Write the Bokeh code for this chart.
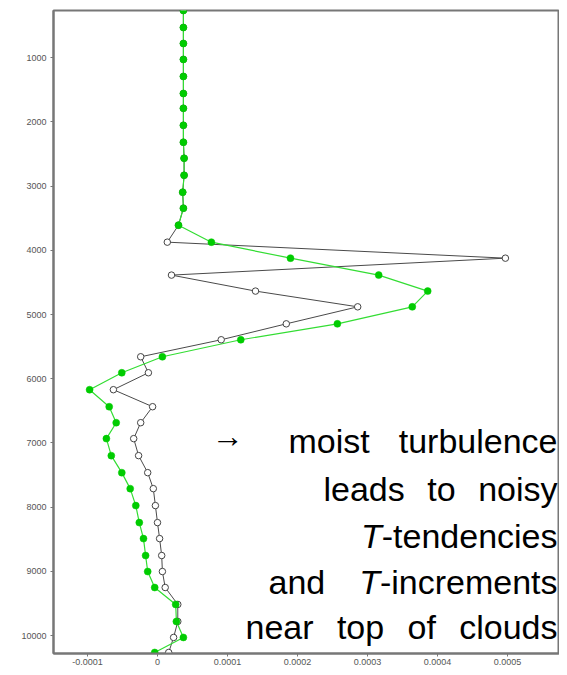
from bokeh.plotting import figure
from bokeh.models import ColumnDataSource, Range1d, FixedTicker, NumeralTickFormatter
from bokeh.core.properties import value
from bokeh.embed import file_html
from bokeh.resources import INLINE

# ---- data ----
levels = [264, 529, 778, 1026, 1291, 1557, 1788, 2053, 2317, 2566, 2831, 3095, 3344,
          3608, 3873, 4122, 4386, 4635, 4880, 5145, 5393, 5658, 5907, 6171, 6436,
          6685, 6933, 7198, 7463, 7712, 7976, 8241, 8490, 8754, 9003, 9252, 9516,
          9781, 10030, 10264]
green_e5 = [3.7, 3.7, 3.7, 3.7, 3.7, 3.7, 3.7, 3.7, 3.7, 3.8, 3.8, 3.6, 3.7,
            3.0, 7.7, 19.0, 31.6, 38.6, 36.4, 25.7, 11.9, 0.7, -5.1, -9.7, -6.9,
            -5.9, -7.3, -6.6, -5.1, -3.9, -3.1, -2.6, -2.0, -1.7, -1.4, -0.4, 2.6,
            2.7, 3.7, -0.4]
black_e5 = [3.7, 3.7, 3.7, 3.7, 3.7, 3.7, 3.7, 3.7, 3.7, 3.8, 3.8, 3.6, 3.7,
            3.0, 1.4, 49.7, 2.0, 14.0, 28.6, 18.4, 9.1, -2.4, -1.3, -6.3, -0.7,
            -2.4, -3.4, -2.7, -1.4, -0.6, -0.3, 0.0, 0.3, 0.6, 0.7, 1.1, 2.9,
            2.9, 2.3, 1.6]
x_ticks = [-0.0001, 0.0, 0.0001, 0.0002, 0.0003, 0.0004, 0.0005]
y_ticks = [1000, 2000, 3000, 4000, 5000, 6000, 7000, 8000, 9000, 10000]

green = [v * 1e-5 for v in green_e5]
black = [v * 1e-5 for v in black_e5]

W, H = 559, 667
FL, FT, FB = 53, 10, 654          # frame left / top / bottom (px)
X0, X1 = -1.4857e-4, 5.743e-4
Y_BOTTOM, Y_TOP = 10280, 264.4

p = figure(width=W, height=H, output_backend="svg", toolbar_location=None,
           x_range=Range1d(X0, X1), y_range=Range1d(Y_BOTTOM, Y_TOP),
           min_border_left=FL, min_border_right=0, min_border_top=FT,
           min_border_bottom=H - FB)
p.background_fill_color = "white"
p.border_fill_color = "white"
p.grid.visible = False
p.outline_line_color = "#777777"
p.outline_line_width = 2

for ax in (p.xaxis[0], p.yaxis[0]):
    ax.axis_line_color = "#777777"
    ax.axis_line_width = 2
    ax.major_tick_line_color = "#777777"
    ax.major_tick_out = 3
    ax.major_tick_in = 0
    ax.minor_tick_line_color = None
    ax.major_label_text_font = "Liberation Sans"
    ax.major_label_text_font_size = "9px"
    ax.major_label_text_color = "#555555"
p.xaxis[0].ticker = FixedTicker(ticks=x_ticks)
p.xaxis[0].formatter = NumeralTickFormatter(format="0.[0000]")
p.yaxis[0].ticker = FixedTicker(ticks=y_ticks)
p.xaxis[0].major_label_standoff = 2
p.yaxis[0].major_label_standoff = 4

src = ColumnDataSource(dict(y=levels, g=green, b=black))

p.line("b", "y", source=src, line_color="#4a4a4a", line_width=1)
p.line("g", "y", source=src, line_color="#33dd33", line_width=1.2)
p.scatter("b", "y", source=src, size=6.5, marker="circle", fill_color="white",
          line_color="#444444", line_width=1)
p.scatter("g", "y", source=src, size=7, marker="circle", fill_color="#00cc00",
          line_color="#00cc00", line_width=0.5)

# ---- annotation text, justified word by word (Liberation Sans metrics) ----
WID = {' ': 278, '-': 333, 'a': 556, 'b': 556, 'c': 500, 'd': 556, 'e': 556,
       'f': 278, 'i': 222, 'k': 500, 'l': 222, 'm': 833, 'n': 556, 'o': 556,
       'p': 556, 'r': 333, 's': 500, 't': 278, 'u': 556, 'y': 500, 'T': 611}
FS = 34


def tw(s):
    return sum(WID.get(c, 556) for c in s) * FS / 1000.0


def to_x(px):  # canvas px -> data
    return X0 + (px - FL) / (W - FL) * (X1 - X0)


def to_y(py):
    return Y_TOP + (py - FT) / (FB - FT) * (Y_BOTTOM - Y_TOP)


lines = [
    [[("moist", False)], [("turbulence", False)]],
    [[("leads", False)], [("to", False)], [("noisy", False)]],
    [[("T", True), ("-tendencies", False)]],
    [[("and", False)], [("T", True), ("-increments", False)]],
    [[("near", False)], [("top", False)], [("of", False)], [("clouds", False)]],
]
baselines = [441, 489, 536, 582, 627]
lefts = [288, 323, None, 268, 245]
RIGHT = 557

xs, ys, ts, styles = [], [], [], []
for words, base, left in zip(lines, baselines, lefts):
    wsum = [sum(tw(s) for s, _ in w) for w in words]
    if left is None or len(words) == 1:
        gap = 0
    else:
        gap = (RIGHT - left - sum(wsum)) / (len(words) - 1)
    cur = RIGHT
    for word in reversed(words):
        for seg, it in reversed(word):
            xs.append(to_x(cur))
            ys.append(to_y(base))
            ts.append(seg)
            styles.append("italic" if it else "normal")
            cur -= tw(seg)
        cur -= gap

tsrc = ColumnDataSource(dict(x=xs, y=ys, t=ts, s=styles))
p.text("x", "y", text="t", source=tsrc, text_align="right",
       text_baseline="alphabetic", text_font=value("Liberation Sans"),
       text_font_size=f"{FS}px", text_font_style="s", text_color="black")

p.text([to_x(227)], [to_y(436)], text=["\u2192"], text_align="center",
       text_baseline="alphabetic", text_font=value("Liberation Sans"),
       text_font_size="32px", text_color="black")

open("out.html", "w").write(file_html(p, INLINE))
